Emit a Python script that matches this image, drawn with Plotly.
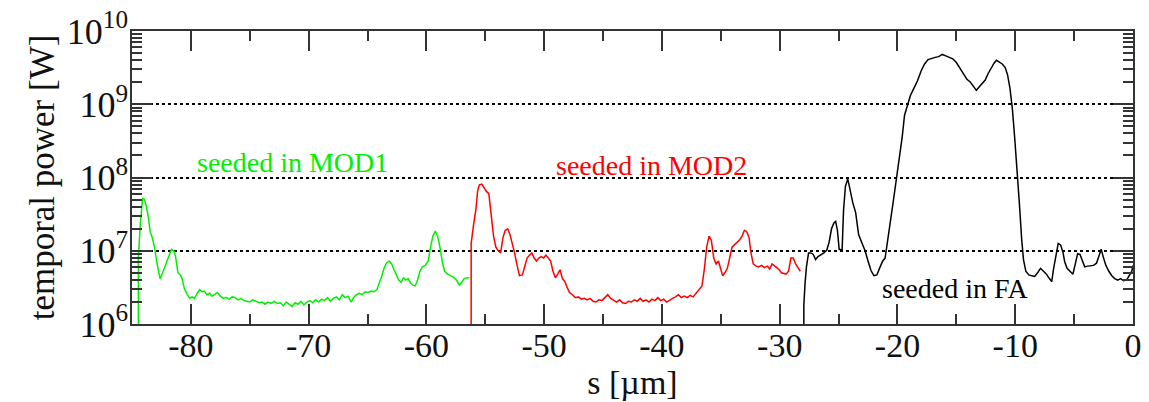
import plotly.graph_objects as go

# Temporal power profiles along the bunch, grouped by where the radiation was seeded.
# Positions s in micrometres, power given as log10 of watts.

mod1_s = [-84.46, -84.46, -84.3, -84.1, -83.95, -83.8, -83.6, -83.45, -83.3, -83.1, -82.9, -82.62,
          -82.4, -82.2, -81.9, -81.65, -81.45, -81.3, -81.1, -80.9, -80.75, -80.55, -80.3, -80.1,
          -79.9, -79.7, -79.45, -79.25, -79.05, -78.85, -78.65, -78.4, -78.2, -77.95, -77.75, -77.5,
          -77.25, -77.0, -76.75, -76.5, -76.25, -76.0, -75.75, -75.5, -75.25, -75.0, -74.75, -74.5,
          -74.2, -73.95, -73.7, -73.45, -73.2, -72.9, -72.65, -72.4, -72.15, -71.9, -71.65, -71.4,
          -71.15, -70.9, -70.65, -70.4, -70.15, -69.9, -69.65, -69.4, -69.15, -68.9, -68.65, -68.4,
          -68.15, -67.9, -67.65, -67.4, -67.15, -66.9, -66.65, -66.4, -66.2, -65.95, -65.7, -65.45,
          -65.2, -64.95, -64.7, -64.45, -64.2, -64.0, -63.8, -63.6, -63.4, -63.15, -62.95, -62.75,
          -62.55, -62.35, -62.15, -61.95, -61.75, -61.55, -61.35, -61.15, -60.95, -60.75, -60.55,
          -60.35, -60.1, -59.85, -59.65, -59.45, -59.25, -59.05, -58.85, -58.65, -58.45, -58.2,
          -57.95, -57.7, -57.45, -57.2, -57.0, -56.8, -56.55, -56.35]
mod1_logp = [4.0, 6.9, 7.35, 7.72, 7.70, 7.62, 7.45, 7.25, 7.19, 7.06, 6.85, 6.62,
             6.70, 6.78, 6.92, 7.02, 7.00, 6.92, 6.70, 6.67, 6.62, 6.48, 6.40, 6.35,
             6.37, 6.35, 6.42, 6.47, 6.44, 6.45, 6.40, 6.42, 6.38, 6.41, 6.43, 6.38,
             6.35, 6.36, 6.34, 6.37, 6.36, 6.33, 6.35, 6.32, 6.31, 6.30, 6.33, 6.31,
             6.29, 6.30, 6.27, 6.30, 6.28, 6.31, 6.28, 6.29, 6.25, 6.30, 6.27, 6.24,
             6.29, 6.27, 6.31, 6.26, 6.30, 6.32, 6.29, 6.33, 6.30, 6.34, 6.32, 6.36,
             6.31, 6.35, 6.37, 6.33, 6.40, 6.36, 6.38, 6.30, 6.36, 6.40, 6.42, 6.40,
             6.44, 6.43, 6.45, 6.44, 6.47, 6.55, 6.65, 6.76, 6.83, 6.86, 6.82, 6.74,
             6.66, 6.60, 6.57, 6.63, 6.60, 6.62, 6.56, 6.53, 6.52, 6.60, 6.72,
             6.78, 6.80, 6.86, 7.05, 7.20, 7.27, 7.20, 7.05, 6.85, 6.72, 6.68,
             6.66, 6.64, 6.60, 6.53, 6.57, 6.62, 6.63, 6.63]

mod2_s = [-56.2, -56.2, -56.0, -55.8, -55.65, -55.5, -55.3, -55.1, -54.9, -54.7, -54.5, -54.3,
          -54.1, -53.9, -53.7, -53.5, -53.3, -53.1, -52.9, -52.7, -52.5, -52.3, -52.1, -51.85,
          -51.65, -51.45, -51.25, -51.05, -50.85, -50.65, -50.45, -50.25, -50.05, -49.85, -49.65,
          -49.45, -49.25, -49.05, -48.85, -48.65, -48.45, -48.25, -48.05, -47.85, -47.6, -47.35,
          -47.1, -46.85, -46.6, -46.35, -46.1, -45.85, -45.6, -45.35, -45.1, -44.85, -44.6, -44.35,
          -44.1, -43.85, -43.6, -43.35, -43.1, -42.85, -42.6, -42.35, -42.1, -41.85, -41.6, -41.35,
          -41.1, -40.85, -40.6, -40.35, -40.1, -39.85, -39.6, -39.35, -39.1, -38.85, -38.6, -38.35,
          -38.1, -37.85, -37.6, -37.35, -37.1, -36.85, -36.6, -36.4, -36.2, -36.0, -35.8, -35.6,
          -35.4, -35.2, -35.0, -34.85, -34.65, -34.45, -34.25, -34.05, -33.85, -33.6, -33.4, -33.2,
          -33.0, -32.8, -32.6, -32.45, -32.25, -32.0, -31.8, -31.55, -31.3, -31.05, -30.85, -30.65,
          -30.45, -30.25, -30.05, -29.85, -29.65, -29.45, -29.25, -29.05, -28.85, -28.65, -28.45,
          -28.25]
mod2_logp = [4.0, 7.10, 7.35, 7.56, 7.82, 7.90, 7.91, 7.86, 7.81, 7.78, 7.46, 7.20,
             7.05, 7.00, 6.97, 7.18, 7.28, 7.30, 7.22, 7.10, 6.96, 6.80, 6.66, 6.67,
             6.80, 6.90, 6.94, 6.97, 6.90, 6.86, 6.90, 6.92, 6.90, 6.94, 6.90,
             6.86, 6.72, 6.63, 6.68, 6.74, 6.62, 6.58, 6.50, 6.43, 6.40, 6.36,
             6.37, 6.34, 6.35, 6.33, 6.35, 6.31, 6.30, 6.33, 6.32, 6.36, 6.40, 6.35,
             6.32, 6.30, 6.33, 6.29, 6.28, 6.31, 6.30, 6.33, 6.31, 6.35, 6.31, 6.33,
             6.30, 6.34, 6.32, 6.36, 6.32, 6.34, 6.30, 6.33, 6.35, 6.37, 6.40, 6.36,
             6.38, 6.36, 6.39, 6.37, 6.42, 6.48, 6.52, 6.75, 7.05, 7.20, 7.14, 6.90,
             6.82, 6.86, 6.72, 6.66, 6.70, 6.76, 6.90, 7.05, 7.08, 7.12, 7.15, 7.20,
             7.28, 7.26, 7.18, 6.98, 6.82, 6.79, 6.78, 6.80, 6.77, 6.79, 6.75, 6.82,
             6.80, 6.77, 6.74, 6.70, 6.69, 6.68, 6.72, 6.90, 6.90, 6.82, 6.77,
             6.72]

fa_s = [-27.95, -27.95, -27.85, -27.73, -27.55, -27.35, -27.15, -26.95, -26.75, -26.5, -26.25,
        -26.0, -25.8, -25.6, -25.4, -25.25, -25.1, -24.95, -24.7, -24.58, -24.42, -24.22, -24.0,
        -23.8, -23.55, -23.3, -23.0, -22.75, -22.5, -22.25, -22.0, -21.75, -21.5, -21.25, -21.05,
        -20.85, -20.6, -20.35, -20.1, -19.85, -19.6, -19.4, -19.15, -18.9, -18.6, -18.3, -18.0,
        -17.7, -17.4, -17.1, -16.8, -16.5, -16.2, -15.9, -15.6, -15.3, -15.0, -14.7, -14.4, -14.1,
        -13.8, -13.5, -13.3, -13.05, -12.8, -12.55, -12.3, -12.05, -11.8, -11.6, -11.35, -11.1,
        -10.85, -10.65, -10.45, -10.25, -10.05, -9.85, -9.65, -9.45, -9.3, -9.1, -8.85, -8.6,
        -8.35, -8.1, -7.85, -7.6, -7.35, -7.1, -6.9, -6.75, -6.55, -6.35, -6.15, -5.95, -5.8,
        -5.6, -5.35, -5.1, -4.9, -4.7, -4.5, -4.3, -4.1, -3.85, -3.6, -3.35, -3.1, -2.85, -2.7,
        -2.5, -2.3, -2.05, -1.8, -1.55, -1.3, -1.05, -0.8, -0.55, -0.3, -0.1, 0.0]
fa_logp = [4.0, 6.26, 6.55, 6.78, 6.97, 6.97, 6.95, 6.88, 6.92, 6.94, 6.97,
           7.01, 7.12, 7.30, 7.38, 7.40, 7.28, 7.02, 7.01, 7.55, 7.88, 7.98, 7.80,
           7.66, 7.52, 7.22, 7.10, 7.00, 6.86, 6.73, 6.66, 6.67, 6.77, 6.86, 6.90,
           7.15, 7.40, 7.68, 7.95, 8.25, 8.55, 8.85, 9.00, 9.12, 9.22, 9.32, 9.45,
           9.55, 9.61, 9.63, 9.64, 9.65, 9.68, 9.66, 9.64, 9.62, 9.57, 9.49, 9.40, 9.34,
           9.30, 9.24, 9.19, 9.24, 9.28, 9.33, 9.42, 9.50, 9.56, 9.60, 9.58, 9.55,
           9.50, 9.40, 9.22, 8.95, 8.55, 8.15, 7.65, 7.15, 6.88, 6.72, 6.67, 6.66,
           6.65, 6.70, 6.76, 6.72, 6.68, 6.62, 6.58, 6.75, 6.92, 7.10, 7.08, 6.98, 6.85,
           6.76, 6.72, 6.68, 6.82, 6.96, 6.95, 6.85, 6.78, 6.79, 6.80, 6.80, 6.83, 6.95, 7.02,
           6.90, 6.80, 6.72, 6.66, 6.62, 6.60, 6.62, 6.59, 6.60, 6.66, 6.72, 6.80]

x_ticks = [-80, -70, -60, -50, -40, -30, -20, -10, 0]
y_exponents = [6, 7, 8, 9, 10]

FONT = "Liberation Serif"
AXIS_COLOR = "#333333"
TEXT_COLOR = "#111111"

series = [
    (mod1_s, mod1_logp, "#00f000", "seeded in MOD1"),
    (mod2_s, mod2_logp, "#ff0000", "seeded in MOD2"),
    (fa_s, fa_logp, "#000000", "seeded in FA"),
]

fig = go.Figure()
for s, logp, color, name in series:
    fig.add_trace(go.Scatter(
        x=s, y=[10 ** v for v in logp], mode="lines", name=name,
        line=dict(color=color, width=1.5), showlegend=False,
    ))

# In-plot labels for each seeding stage
labels = [
    ("seeded in MOD1", -71.4, 8.20, "#00f000"),
    ("seeded in MOD2", -40.9, 8.17, "#ff0000"),
    ("seeded in FA", -15.1, 6.48, "#000000"),
]
for text, x, ylog, color in labels:
    fig.add_annotation(x=x, y=ylog, text=text, showarrow=False,
                       font=dict(family=FONT, size=28, color=color))

fig.update_xaxes(
    range=[-85, 0], tickvals=x_ticks, ticktext=[str(v) for v in x_ticks],
    ticks="inside", ticklen=20, tickwidth=1.5, tickcolor=AXIS_COLOR,
    minor=dict(ticks="inside", ticklen=10, tickwidth=1.5, tickcolor=AXIS_COLOR,
               dtick=5, tick0=0, showgrid=False),
    showline=True, linewidth=1.5, linecolor=AXIS_COLOR, mirror="allticks",
    showgrid=False, zeroline=False, automargin=False, ticklabelstandoff=-10,
    tickfont=dict(family=FONT, size=34, color=TEXT_COLOR),
    title=dict(text="s [µm]", font=dict(family=FONT, size=34, color=TEXT_COLOR), standoff=0),
)
fig.update_yaxes(
    type="log", range=[6, 10],
    tickvals=[10 ** e for e in y_exponents],
    ticktext=[f"10<sup>{e}</sup>" for e in y_exponents],
    ticks="inside", ticklen=20, tickwidth=1.5, tickcolor=AXIS_COLOR,
    minor=dict(ticks="inside", ticklen=10, tickwidth=1.5, tickcolor=AXIS_COLOR,
               dtick="D1", showgrid=False),
    showline=True, linewidth=1.5, linecolor=AXIS_COLOR, mirror="allticks",
    showgrid=True, gridcolor="#000000", gridwidth=1.5, griddash="dot",
    zeroline=False, automargin=False, ticklabelstandoff=-5,
    tickfont=dict(family=FONT, size=36, color=TEXT_COLOR),
    title=dict(text="temporal power [W]", font=dict(family=FONT, size=35, color=TEXT_COLOR), standoff=2),
)
fig.update_layout(
    width=1149, height=402,
    margin=dict(l=132, r=16, t=31, b=78),
    paper_bgcolor="white", plot_bgcolor="white",
)

fig.write_html("out.html")
